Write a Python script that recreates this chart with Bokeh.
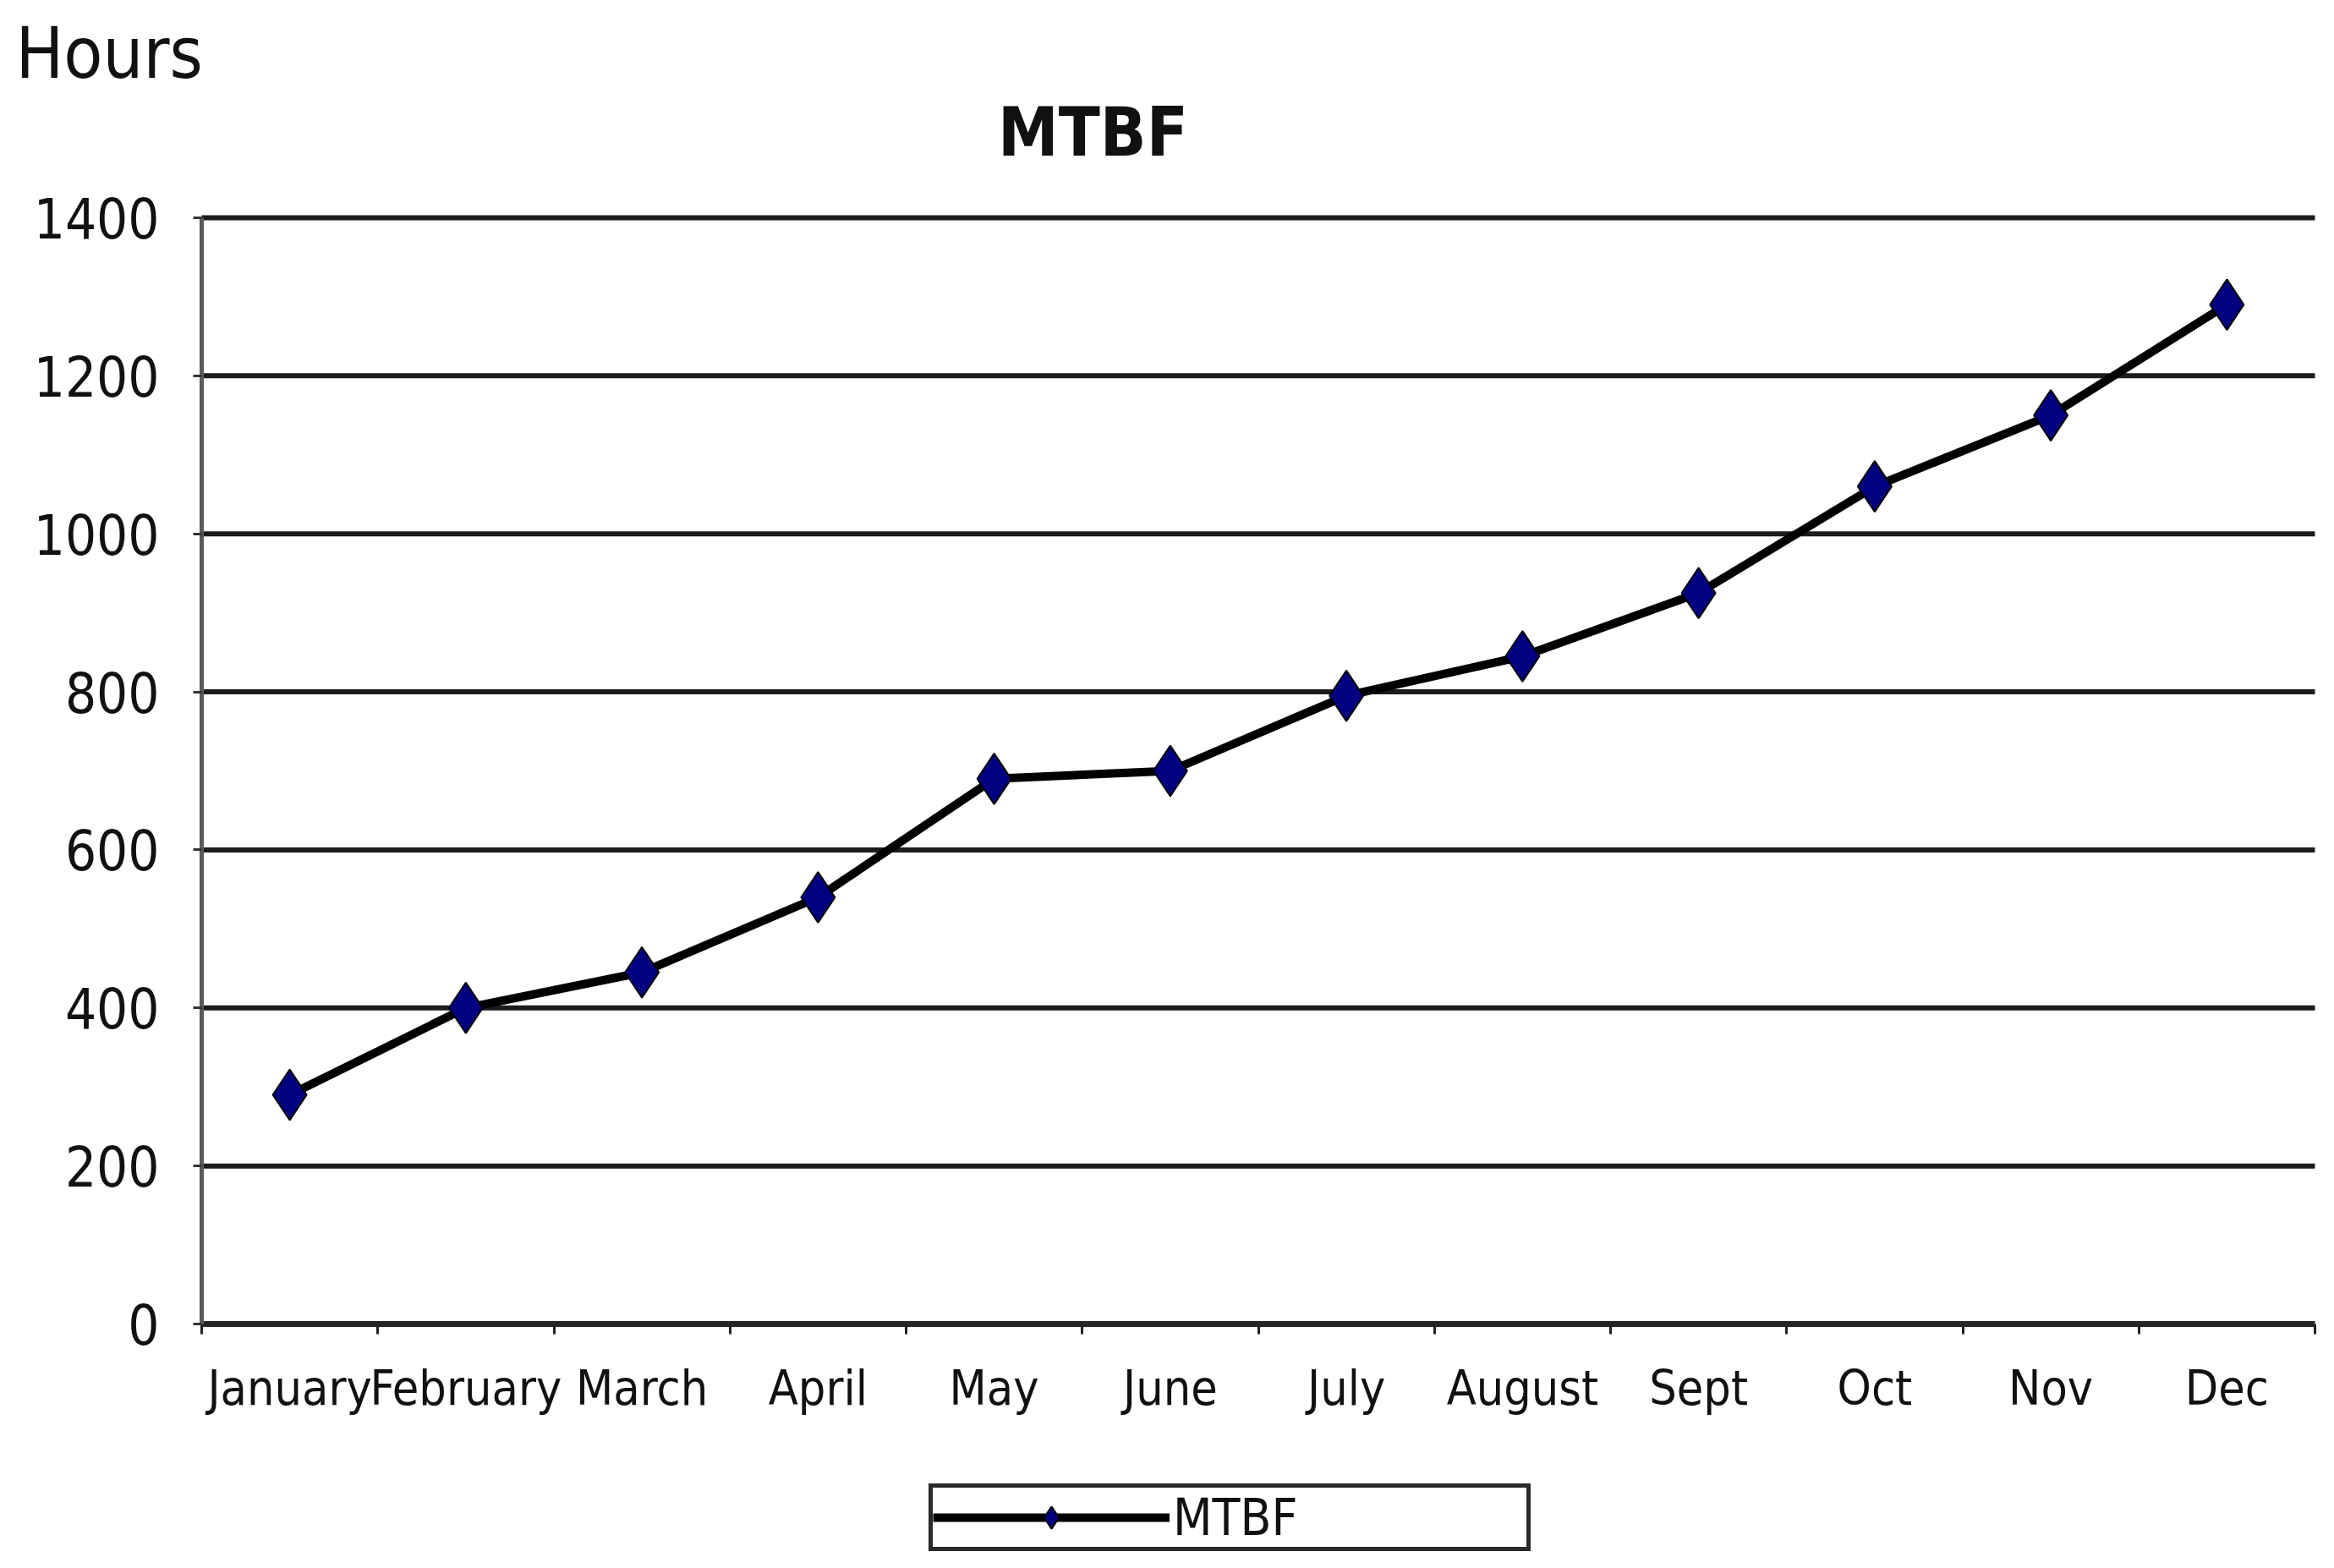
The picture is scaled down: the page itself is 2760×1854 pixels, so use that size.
from bokeh.plotting import figure
from bokeh.models import Legend, LegendItem, Label, FixedTicker, Range1d
from bokeh.embed import file_html
from bokeh.resources import INLINE

months = ["January", "February", "March", "April", "May", "June",
          "July", "August", "Sept", "Oct", "Nov", "Dec"]
mtbf = [290, 400, 445, 540, 690, 700, 795, 845, 925, 1060, 1150, 1290]
y_ticks = [0, 200, 400, 600, 800, 1000, 1200, 1400]

FONT = "'Liberation Sans Narrow', 'Arial Narrow', 'DejaVu Sans Condensed', sans-serif"

W, H = 2744, 1838
# pixel layout of the plotting area inside the canvas
AX_L, AX_R, AX_T, AX_B = 238, 2737, 257, 1565
n = len(months)
ymax = y_ticks[-1]
kx = (AX_R - AX_L) / n
ky = (AX_B - AX_T) / ymax

xs = [i + 0.5 for i in range(n)]

p = figure(width=W, height=H, title=None,
           x_range=Range1d(-AX_L / kx, n + (W - AX_R) / kx),
           y_range=Range1d(-(H - AX_B) / ky, ymax + AX_T / ky),
           output_backend="svg", toolbar_location=None,
           min_border=0)
p.outline_line_color = None
p.background_fill_color = "white"
p.border_fill_color = "white"
p.xgrid.grid_line_color = None
p.ygrid.grid_line_color = None

# horizontal grid lines between the axes
p.segment(x0=[0] * (len(y_ticks) - 1), x1=[n] * (len(y_ticks) - 1),
          y0=y_ticks[1:], y1=y_ticks[1:], line_color="#1c1c1c", line_width=6)

# x axis: labels at category centres, tick marks at category boundaries
xa = p.xaxis[0]
xa.fixed_location = 0
xa.bounds = (0, n)
xa.ticker = FixedTicker(ticks=xs, minor_ticks=list(range(n + 1)))
xa.major_label_overrides = {x: m for x, m in zip(xs, months)}
xa.major_tick_line_color = None
xa.major_tick_out = 0
xa.major_tick_in = 0
xa.minor_tick_line_color = "#222222"
xa.minor_tick_line_width = 3
xa.minor_tick_out = 12
xa.minor_tick_in = 0
xa.axis_line_color = "#262626"
xa.axis_line_width = 7
xa.major_label_text_font = FONT
xa.major_label_text_font_size = "57px"
xa.major_label_text_color = "#111111"
xa.major_label_standoff = 30

ya = p.yaxis[0]
ya.fixed_location = 0
ya.bounds = (0, ymax)
ya.ticker = FixedTicker(ticks=y_ticks)
ya.minor_tick_line_color = None
ya.axis_line_color = "#5a5a5a"
ya.axis_line_width = 5
ya.major_tick_line_color = "#333333"
ya.major_tick_line_width = 3
ya.major_tick_out = 10
ya.major_tick_in = 0
ya.major_label_text_font = FONT
ya.major_label_text_font_size = "65px"
ya.major_label_text_color = "#111111"
ya.major_label_standoff = 40

r_line = p.line(xs, mtbf, line_color="black", line_width=10)
r_pts = p.scatter(xs, mtbf, marker="diamond", size=60,
                  fill_color="#000080", line_color="black", line_width=2)

legend = Legend(items=[LegendItem(label="MTBF", renderers=[r_line, r_pts])],
                location=(1098, 4),
                glyph_width=280, glyph_height=66, label_height=44,
                label_width=418, label_standoff=4, padding=0, margin=0,
                border_line_color="#2a2a2a", border_line_width=5,
                border_line_alpha=1.0,
                label_text_font=FONT, label_text_font_size="60px",
                label_text_color="#111111", background_fill_color="white")
p.add_layout(legend)

p.add_layout(Label(x=18, y=H - 62, x_units="screen", y_units="screen",
                   text="Hours", text_font=FONT, text_font_size="84px",
                   text_color="#111111", text_baseline="alphabetic"))
p.add_layout(Label(x=1292, y=H - 156, x_units="screen", y_units="screen",
                   text="MTBF", text_font=FONT, text_font_size="80px",
                   text_font_style="bold", text_align="center",
                   text_color="#111111", text_baseline="alphabetic"))

open("out.html", "w").write(file_html(p, INLINE))
